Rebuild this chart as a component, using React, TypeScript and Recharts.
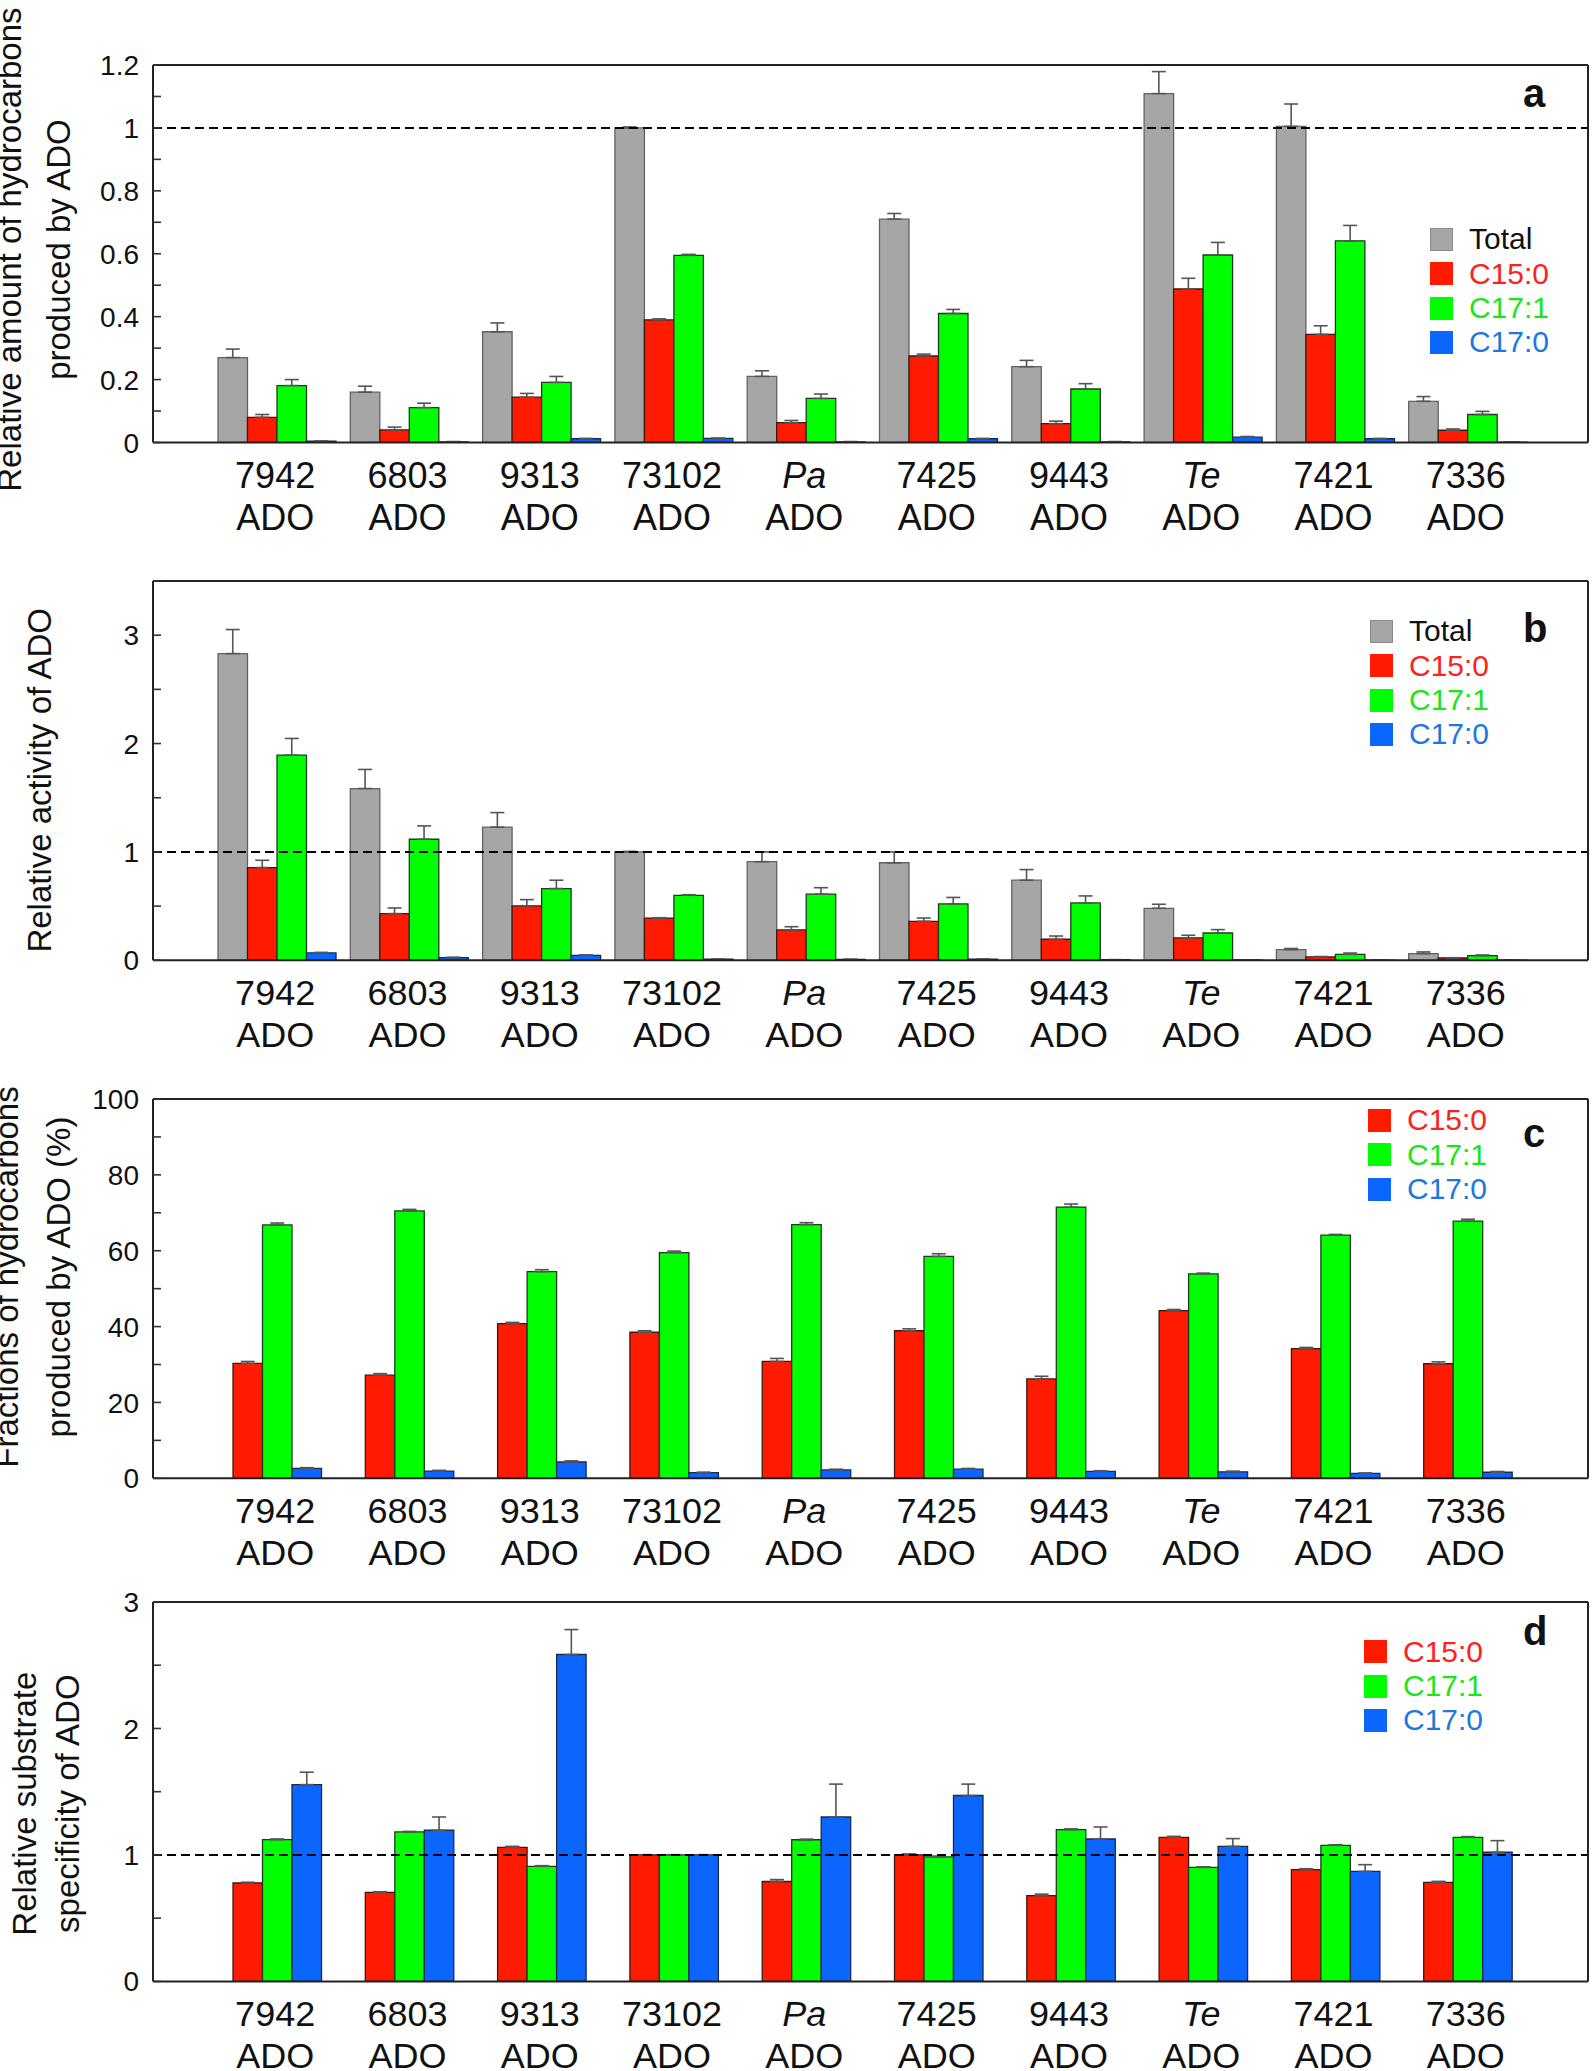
import React from 'react'
import { BarChart, Bar, XAxis, YAxis, ReferenceLine, ErrorBar, Legend } from 'recharts'

const FONT = '"Liberation Sans", Arial, Helvetica, sans-serif'

const strains = ['7942', '6803', '9313', '73102', 'Pa', '7425', '9443', 'Te', '7421', '7336']
const italicStrains = ['Pa', 'Te']

// a: relative amount of hydrocarbons
const amountTotal = [0.27, 0.16, 0.352, 1.0, 0.21, 0.71, 0.241, 1.109, 1.005, 0.131]
const amountTotalErr = [0.027, 0.019, 0.028, 0.003, 0.018, 0.018, 0.02, 0.07, 0.071, 0.015]
const amountC15 = [0.08, 0.04, 0.144, 0.39, 0.063, 0.275, 0.06, 0.488, 0.344, 0.039]
const amountC15Err = [0.009, 0.009, 0.012, 0.003, 0.007, 0.006, 0.008, 0.034, 0.027, 0.004]
const amountC171 = [0.181, 0.111, 0.191, 0.595, 0.14, 0.41, 0.17, 0.596, 0.641, 0.089]
const amountC171Err = [0.019, 0.014, 0.019, 0.003, 0.014, 0.013, 0.017, 0.04, 0.049, 0.01]
const amountC170 = [0.004, 0.002, 0.012, 0.013, 0.002, 0.012, 0.002, 0.017, 0.012, 0.001]
const amountC170Err = [0.001, 0.001, 0.001, 0.001, 0.001, 0.001, 0.001, 0.002, 0.001, 0.001]

// b: relative activity
const activityTotal = [2.83, 1.585, 1.228, 1.0, 0.91, 0.9, 0.739, 0.48, 0.099, 0.062]
const activityTotalErr = [0.222, 0.176, 0.135, 0.005, 0.09, 0.1, 0.098, 0.037, 0.01, 0.015]
const activityC15 = [0.856, 0.431, 0.502, 0.39, 0.28, 0.36, 0.194, 0.206, 0.031, 0.021]
const activityC15Err = [0.067, 0.052, 0.058, 0.003, 0.03, 0.03, 0.03, 0.025, 0.004, 0.003]
const activityC171 = [1.893, 1.117, 0.662, 0.6, 0.61, 0.52, 0.529, 0.252, 0.055, 0.043]
const activityC171Err = [0.154, 0.123, 0.077, 0.005, 0.06, 0.06, 0.065, 0.031, 0.012, 0.006]
const activityC170 = [0.068, 0.025, 0.046, 0.01, 0.008, 0.01, 0.005, 0.003, 0.001, 0.001]
const activityC170Err = [0.005, 0.003, 0.004, 0.001, 0.001, 0.001, 0.001, 0.001, 0.0, 0.0]

// c: fractions (%)
const fracC15 = [30.3, 27.2, 40.8, 38.5, 30.8, 38.9, 26.2, 44.2, 34.2, 30.2]
const fracC15Err = [0.5, 0.4, 0.3, 0.4, 0.8, 0.5, 0.7, 0.3, 0.3, 0.5]
const fracC171 = [66.8, 70.5, 54.5, 59.5, 66.9, 58.5, 71.5, 53.9, 64.1, 67.8]
const fracC171Err = [0.5, 0.4, 0.5, 0.4, 0.5, 0.7, 0.8, 0.2, 0.2, 0.5]
const fracC170 = [2.6, 1.9, 4.3, 1.5, 2.2, 2.4, 1.8, 1.7, 1.3, 1.6]
const fracC170Err = [0.2, 0.2, 0.3, 0.1, 0.2, 0.2, 0.2, 0.2, 0.1, 0.2]

// d: relative substrate specificity
const specC15 = [0.778, 0.704, 1.06, 1.0, 0.79, 1.0, 0.678, 1.139, 0.884, 0.783]
const specC15Err = [0.006, 0.005, 0.008, 0.002, 0.015, 0.008, 0.012, 0.008, 0.007, 0.008]
const specC171 = [1.121, 1.182, 0.91, 1.0, 1.12, 0.985, 1.2, 0.902, 1.076, 1.139]
const specC171Err = [0.005, 0.004, 0.005, 0.002, 0.005, 0.006, 0.006, 0.004, 0.004, 0.006]
const specC170 = [1.556, 1.195, 2.585, 1.0, 1.3, 1.47, 1.126, 1.068, 0.87, 1.021]
const specC170Err = [0.098, 0.105, 0.197, 0.002, 0.26, 0.09, 0.095, 0.061, 0.053, 0.092]

const ticksA = [0, 0.1, 0.2, 0.3, 0.4, 0.5, 0.6, 0.7, 0.8, 0.9, 1, 1.1, 1.2]
const ticksB = [0, 0.5, 1, 1.5, 2, 2.5, 3, 3.5]
const ticksC = [0, 10, 20, 30, 40, 50, 60, 70, 80, 90, 100]
const ticksD = [0, 0.5, 1, 1.5, 2, 2.5, 3]

const GRAY = { fill: '#a6a6a6', stroke: '#626262', text: '#111' }
const RED = { fill: '#ff1a00', stroke: '#3a1a10', text: '#ff2020' }
const GREEN = { fill: '#00ff00', stroke: '#1f3a1f', text: '#19e619' }
const BLUE = { fill: '#0a66ff', stroke: '#1a2a4a', text: '#1c78e0' }

type Series = { key: string; name: string; values: number[]; errors: number[]; fill: string; stroke: string; text: string }

type PanelProps = {
  top: number
  height: number
  max: number
  ticks: number[]
  major: number
  dashed: boolean
  series: Series[]
  titles: string[]
  titleX: number[]
  titleY: number
  letter: string
  letterY: number
  legendX: number
  legendY: number
}

const LEFT = 153
const RIGHT_MARGIN = 6
const CHART_W = 1595

function Panel(p: PanelProps) {
  const divTop = Math.max(0, p.top - 60)
  const mTop = p.top - divTop
  const xAxisH = 110
  const rows = strains.map((s, i) => {
    const r: any = { name: s }
    p.series.forEach(se => {
      r[se.key] = se.values[i]
      r[se.key + 'Err'] = [0, se.errors[i]]
    })
    return r
  })

  const isMajor = (v: number) => Math.abs(v / p.major - Math.round(v / p.major)) < 1e-6

  const leftTick = (props: any) => {
    const { x, y, payload } = props
    const v = payload.value
    return (
      <g>
        <line x1={x} x2={x + 8} y1={y} y2={y} stroke="#333" strokeWidth={1.6} />
        {isMajor(v) && (
          <text x={x - 14} y={y} dy="0.36em" textAnchor="end" fontSize={28} fontFamily={FONT} fill="#111">
            {String(+v.toFixed(2))}
          </text>
        )}
      </g>
    )
  }

  const rightTick = (props: any) => {
    const { x, y } = props
    return <line x1={x} x2={x - 8} y1={y} y2={y} stroke="#333" strokeWidth={1.6} />
  }

  const xTick = (props: any) => {
    const { x, y, payload } = props
    const name = payload.value
    return (
      <g fontFamily={FONT} fontSize={36} fill="#111">
        <text x={x - 2} y={y + 45} textAnchor="middle" fontStyle={italicStrains.includes(name) ? 'italic' : 'normal'}>
          {name}
        </text>
        <text x={x - 2} y={y + 87} textAnchor="middle">ADO</text>
      </g>
    )
  }

  const titleLabel = () => {
    const cy = p.titleY - divTop
    return (
      <g fontFamily={FONT} fill="#111">
        {p.titles.map((t, i) => (
          <text
            key={t}
            x={p.titleX[i]}
            y={cy}
            textAnchor="middle"
            fontSize={33}
            transform={`rotate(-90, ${p.titleX[i]}, ${cy})`}
          >
            {t}
          </text>
        ))}
        <text x={1523} y={p.letterY - divTop} fontSize={40} fontWeight="bold">{p.letter}</text>
      </g>
    )
  }

  const legendContent = () => (
    <div style={{ fontFamily: FONT, fontSize: 30 }}>
      {p.series.map(se => (
        <div key={se.key} style={{ display: 'flex', alignItems: 'center', height: 34.3 }}>
          <div style={{ width: 21, height: 21, background: se.fill, border: `1px solid ${se.key === 'total' ? '#8a8a8a' : se.fill}` }} />
          <span style={{ marginLeft: 16, color: se.text, lineHeight: '34px' }}>{se.name}</span>
        </div>
      ))}
    </div>
  )

  return (
    <div style={{ position: 'absolute', left: 0, top: divTop }}>
      <BarChart
        width={CHART_W}
        height={mTop + p.height + xAxisH}
        data={rows}
        margin={{ top: mTop, right: RIGHT_MARGIN, bottom: 0, left: 0 }}
        barGap={0}
        barSize={29.5}
      >
        <XAxis
          dataKey="name"
          height={xAxisH}
          padding={{ left: 58, right: 54 }}
          axisLine={{ stroke: '#222', strokeWidth: 2 }}
          tickLine={false}
          tickSize={0}
          tickMargin={0}
          interval={0}
          tick={xTick}
        />
        <YAxis
          yAxisId="l"
          width={LEFT}
          domain={[0, p.max]}
          ticks={p.ticks}
          interval={0}
          allowDataOverflow
          axisLine={{ stroke: '#222', strokeWidth: 2 }}
          tickLine={false}
          tickSize={0}
          tickMargin={0}
          tick={leftTick}
          label={titleLabel}
        />
        <YAxis
          yAxisId="r"
          orientation="right"
          width={1}
          domain={[0, p.max]}
          ticks={p.ticks}
          interval={0}
          axisLine={{ stroke: '#222', strokeWidth: 2 }}
          tickLine={false}
          tickSize={0}
          tickMargin={0}
          tick={rightTick}
        />
        {p.series.map(se => (
          <Bar
            key={se.key}
            yAxisId="l"
            dataKey={se.key}
            name={se.name}
            fill={se.fill}
            stroke={se.stroke}
            strokeWidth={1.3}
            isAnimationActive={false}
          >
            <ErrorBar dataKey={se.key + 'Err'} width={7} stroke="#555" strokeWidth={1.6} direction="y" isAnimationActive={false} />
          </Bar>
        ))}
        <ReferenceLine yAxisId="l" y={p.max} stroke="#222" strokeWidth={2} />
        {p.dashed && <ReferenceLine yAxisId="l" y={1} stroke="#000" strokeWidth={2} strokeDasharray="9 5" />}
        <Legend
          layout="horizontal"
          align="center"
          verticalAlign="middle"
          content={legendContent}
          wrapperStyle={{ left: p.legendX, top: p.legendY - divTop - 17, width: 'auto', height: 'auto' }}
        />
      </BarChart>
    </div>
  )
}

export default function App() {
  const seriesA: Series[] = [
    { key: 'total', name: 'Total', values: amountTotal, errors: amountTotalErr, ...GRAY },
    { key: 'c15', name: 'C15:0', values: amountC15, errors: amountC15Err, ...RED },
    { key: 'c171', name: 'C17:1', values: amountC171, errors: amountC171Err, ...GREEN },
    { key: 'c170', name: 'C17:0', values: amountC170, errors: amountC170Err, ...BLUE },
  ]
  const seriesB: Series[] = [
    { key: 'total', name: 'Total', values: activityTotal, errors: activityTotalErr, ...GRAY },
    { key: 'c15', name: 'C15:0', values: activityC15, errors: activityC15Err, ...RED },
    { key: 'c171', name: 'C17:1', values: activityC171, errors: activityC171Err, ...GREEN },
    { key: 'c170', name: 'C17:0', values: activityC170, errors: activityC170Err, ...BLUE },
  ]
  const seriesC: Series[] = [
    { key: 'c15', name: 'C15:0', values: fracC15, errors: fracC15Err, ...RED },
    { key: 'c171', name: 'C17:1', values: fracC171, errors: fracC171Err, ...GREEN },
    { key: 'c170', name: 'C17:0', values: fracC170, errors: fracC170Err, ...BLUE },
  ]
  const seriesD: Series[] = [
    { key: 'c15', name: 'C15:0', values: specC15, errors: specC15Err, ...RED },
    { key: 'c171', name: 'C17:1', values: specC171, errors: specC171Err, ...GREEN },
    { key: 'c170', name: 'C17:0', values: specC170, errors: specC170Err, ...BLUE },
  ]

  return (
    <div style={{ position: 'absolute', left: 0, top: 0, width: 1595, height: 2071, overflow: 'hidden', background: '#fff', fontFamily: FONT }}>
      <Panel
        top={65.4} height={377.5} max={1.2} ticks={ticksA} major={0.2} dashed series={seriesA}
        titles={['Relative amount of hydrocarbons', 'produced by ADO']} titleX={[21, 70]} titleY={250}
        letter="a" letterY={107} legendX={1430} legendY={239.3}
      />
      <Panel
        top={580.7} height={379.3} max={3.5} ticks={ticksB} major={1} dashed series={seriesB}
        titles={['Relative activity of ADO']} titleX={[50.5]} titleY={780}
        letter="b" letterY={641.7} legendX={1370} legendY={631.3}
      />
      <Panel
        top={1099} height={379.3} max={100} ticks={ticksC} major={20} dashed={false} series={seriesC}
        titles={['Fractions of hydrocarbons', 'produced by ADO (%)']} titleX={[18, 70]} titleY={1277}
        letter="c" letterY={1146.7} legendX={1368} legendY={1120.3}
      />
      <Panel
        top={1602.3} height={379.4} max={3} ticks={ticksD} major={1} dashed series={seriesD}
        titles={['Relative substrate', 'specificity of ADO']} titleX={[36, 79]} titleY={1804}
        letter="d" letterY={1645} legendX={1364} legendY={1651.7}
      />
    </div>
  )
}
